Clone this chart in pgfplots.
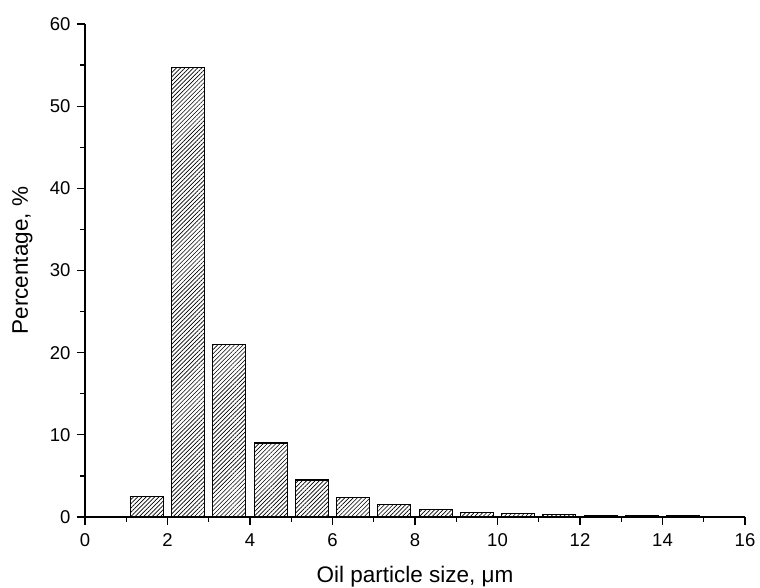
\documentclass[border=0pt]{standalone}
\usepackage{pgfplots}
\pgfplotsset{compat=1.18}
\usepackage{fontspec}
\setmainfont{Liberation Sans}
\usetikzlibrary{patterns.meta}
\pgfplotstableread{
x y
1.5 2.5
2.5 54.7
3.5 21.0
4.5 9.0
5.5 4.5
6.5 2.4
7.5 1.5
8.5 0.95
9.5 0.6
10.5 0.45
11.5 0.35
12.5 0.22
13.5 0.12
14.5 0.12
15.5 0.06
}\datatable
\begin{document}
\begin{tikzpicture}
\useasboundingbox (-85pt,-71pt) rectangle (675pt,517pt);
\begin{axis}[
  at={(0pt,0pt)}, anchor=origin,
  scale only axis,
  width=660pt, height=493pt,
  xmin=0, xmax=16, ymin=0, ymax=60,
  axis x line=bottom, axis y line=left,
  axis line style={-, line width=1.3pt},
  tick align=outside,
  xtick={0,2,...,16}, ytick={0,10,...,60},
  minor x tick num=1, minor y tick num=1,
  major tick length=8pt, minor tick length=5pt,
  every tick/.style={line width=1.3pt, black},
  tick label style={font=\fontsize{18.5}{20}\selectfont},
  /pgf/number format/assume math mode=true,
  xticklabel style={yshift=-5pt},
  yticklabel style={xshift=-3pt},
  label style={font=\fontsize{22.5}{26}\selectfont},
  xlabel={Oil particle size, μm},
  ylabel={Percentage, \%},
  xlabel style={at={(axis description cs:0.5,0)}, anchor=base, yshift=-66pt},
  ylabel style={at={(axis description cs:-0.095,0.52)}, anchor=center},
  clip=false,
]
\addplot[ybar, bar width=0.8, bar shift=0pt, draw=black, line width=1.1pt,
  pattern={Lines[angle=45, distance=3pt, line width=0.65pt]}]
  table[x=x, y=y] {\datatable};
\end{axis}
\end{tikzpicture}
\end{document}
